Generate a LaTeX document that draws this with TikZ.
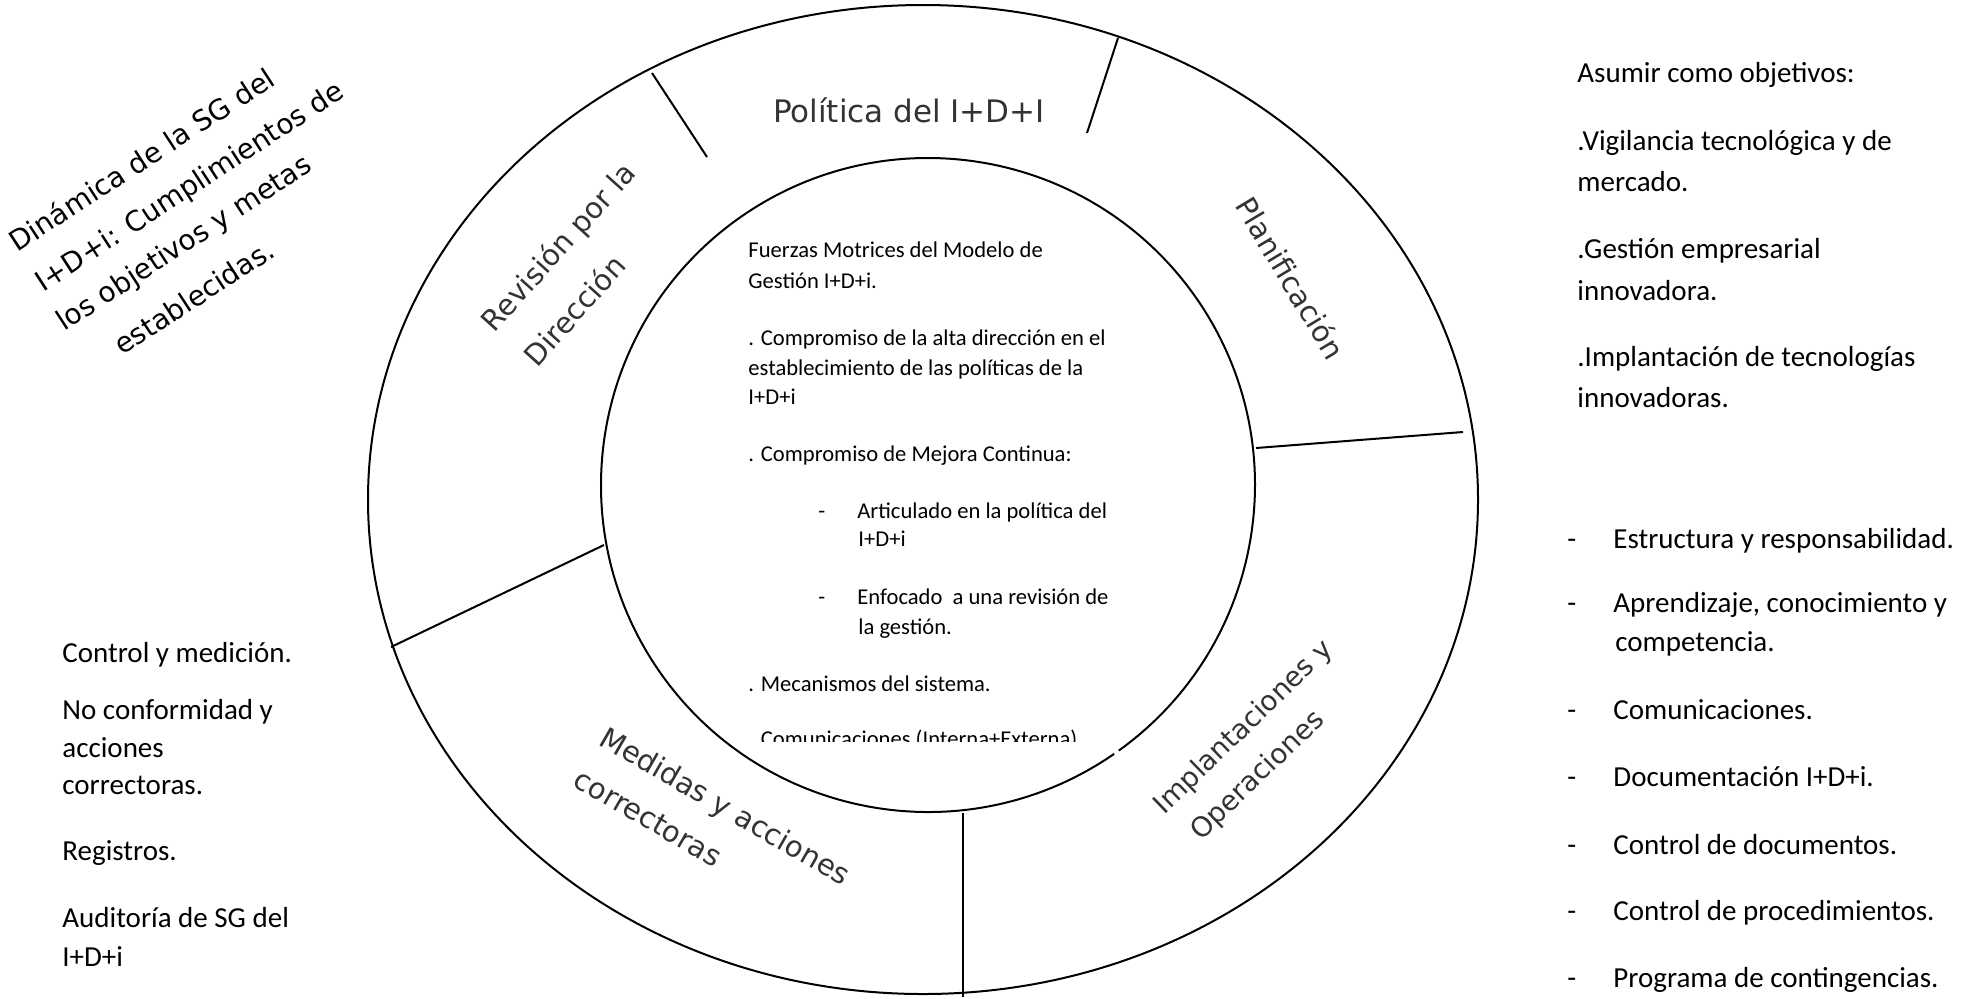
\documentclass[tikz,border=0pt]{standalone}
\usepackage{fontspec}
\setmainfont{Carlito}
\newfontfamily\ringfont{DejaVu Sans}
\begin{document}
\begin{tikzpicture}[x=0.5pt,y=-0.5pt,
  ring/.style={line width=1pt, draw=black},
  body/.style={anchor=base west, inner sep=0pt, font=\fontsize{14.5}{17}\selectfont},
  small/.style={anchor=base west, inner sep=0pt, font=\fontsize{11.3}{13}\selectfont},
  seglabel/.style={inner sep=0pt, text=black!80, font=\ringfont\fontsize{14.5}{17}\selectfont},
  tilted/.style={anchor=base west, inner sep=0pt, rotate=33, font=\ringfont\fontsize{14}{17}\selectfont},
]
\useasboundingbox (0,0) rectangle (1980,998);
\fill[white] (0,0) rectangle (1980,998);

% --- rings ---
\draw[ring] (923,499.5) ellipse [x radius=555, y radius=494.5];
\draw[ring] ([shift={(55.3:327)}]928,485) arc[start angle=55.3, end angle=414.3, radius=327];

% --- segment dividers ---
\coordinate (p1a) at (652,73);   \coordinate (p1b) at (707,157);
\coordinate (p2a) at (1118,38);  \coordinate (p2b) at (1087,133);
\coordinate (p3a) at (1256,448); \coordinate (p3b) at (1463,432);
\coordinate (p4a) at (963,813);  \coordinate (p4b) at (963,997);
\coordinate (p5a) at (391,647);  \coordinate (p5b) at (604,545);
\draw[ring] (p1a) -- (p1b);
\draw[ring] (p2a) -- (p2b);
\draw[ring] (p3a) -- (p3b);
\draw[ring] (p4a) -- (p4b);
\draw[ring] (p5a) -- (p5b);

% --- segment labels ---
\node[seglabel, font=\ringfont\fontsize{15.5}{17}\selectfont] (pol) at (909,110) {Política del I+D+I};
\node[seglabel, rotate=48] (rev1) at (560,248) {Revisión por la};
\node[seglabel, rotate=48] (rev2) at (574,310) {Dirección};
\node[seglabel, rotate=-59] (plan) at (1291,278) {Planificación};
\node[seglabel, rotate=44, font=\ringfont\fontsize{13.8}{17}\selectfont] (imp1) at (1244,728) {Implantaciones y};
\node[seglabel, rotate=44, font=\ringfont\fontsize{13.8}{17}\selectfont] (imp2) at (1258,776) {Operaciones};
\node[seglabel, rotate=-30] (med1) at (724,808) {Medidas y acciones};
\node[seglabel, rotate=-30] (med2) at (648,818) {correctoras};

% --- tilted note, top left ---
\node[tilted] (din1) at (17,253) {Dinámica de la SG del};
\node[tilted] (din2) at (43,293) {I+D+i: Cumplimientos de};
\node[tilted] (din3) at (64,332) {los objetivos y metas};
\node[tilted] (din4) at (122,356) {establecidas.};

% --- centre text ---
\node[small] (c1) at (748,257) {Fuerzas Motrices del Modelo de};
\node[small] (c2) at (748,288) {Gestión I+D+i.};
\node[small] (c3) at (748,345) {. Compromiso de la alta dirección en el};
\node[small] (c4) at (748,375) {establecimiento de las políticas de la};
\node[small] (c5) at (748,404) {I+D+i};
\node[small] (c6) at (748,461) {. Compromiso de Mejora Continua:};
\node[small] (c7d) at (818,518) {-};
\node[small] (c7) at (857,518) {Articulado en la política del};
\node[small] (c8) at (858,546) {I+D+i};
\node[small] (c9d) at (818,604) {-};
\node[small] (c9) at (857,604) {Enfocado\ \ a una revisión de};
\node[small] (c10) at (858,634) {la gestión.};
\node[small] (c11) at (748,691) {. Mecanismos del sistema.};
\begin{scope}
  \clip (700,700) rectangle (1200,741);
  \node[small] (c12) at (748,746) {. Comunicaciones (Interna+Externa)};
\end{scope}

% --- right column, objectives ---
\node[body] (a1) at (1577,82)  {Asumir como objetivos:};
\node[body] (a2) at (1577,150) {.Vigilancia tecnológica y de};
\node[body] (a3) at (1577,191) {mercado.};
\node[body] (a4) at (1577,258) {.Gestión empresarial};
\node[body] (a5) at (1577,300) {innovadora.};
\node[body] (a6) at (1577,366) {.Implantación de tecnologías};
\node[body] (a7) at (1577,407) {innovadoras.};

% --- right column, list ---
\node[body] (b1d) at (1567,548) {-};
\node[body] (b1) at (1613,548) {Estructura y responsabilidad.};
\node[body] (b2d) at (1567,612) {-};
\node[body] (b2) at (1613,612) {Aprendizaje, conocimiento y};
\node[body] (b2b) at (1615,651) {competencia.};
\node[body] (b3d) at (1567,719) {-};
\node[body] (b3) at (1613,719) {Comunicaciones.};
\node[body] (b4d) at (1567,786) {-};
\node[body] (b4) at (1613,786) {Documentación I+D+i.};
\node[body] (b5d) at (1567,854) {-};
\node[body] (b5) at (1613,854) {Control de documentos.};
\node[body] (b6d) at (1567,920) {-};
\node[body] (b6) at (1613,920) {Control de procedimientos.};
\node[body] (b7d) at (1567,987) {-};
\node[body] (b7) at (1613,987) {Programa de contingencias.};

% --- left column ---
\node[body] (l1) at (62,662) {Control y medición.};
\node[body] (l2) at (62,719) {No conformidad y};
\node[body] (l3) at (62,757) {acciones};
\node[body] (l4) at (62,794) {correctoras.};
\node[body] (l5) at (62,860) {Registros.};
\node[body] (l6) at (62,927) {Auditoría de SG del};
\node[body] (l7) at (62,966) {I+D+i};
\end{tikzpicture}
\end{document}
